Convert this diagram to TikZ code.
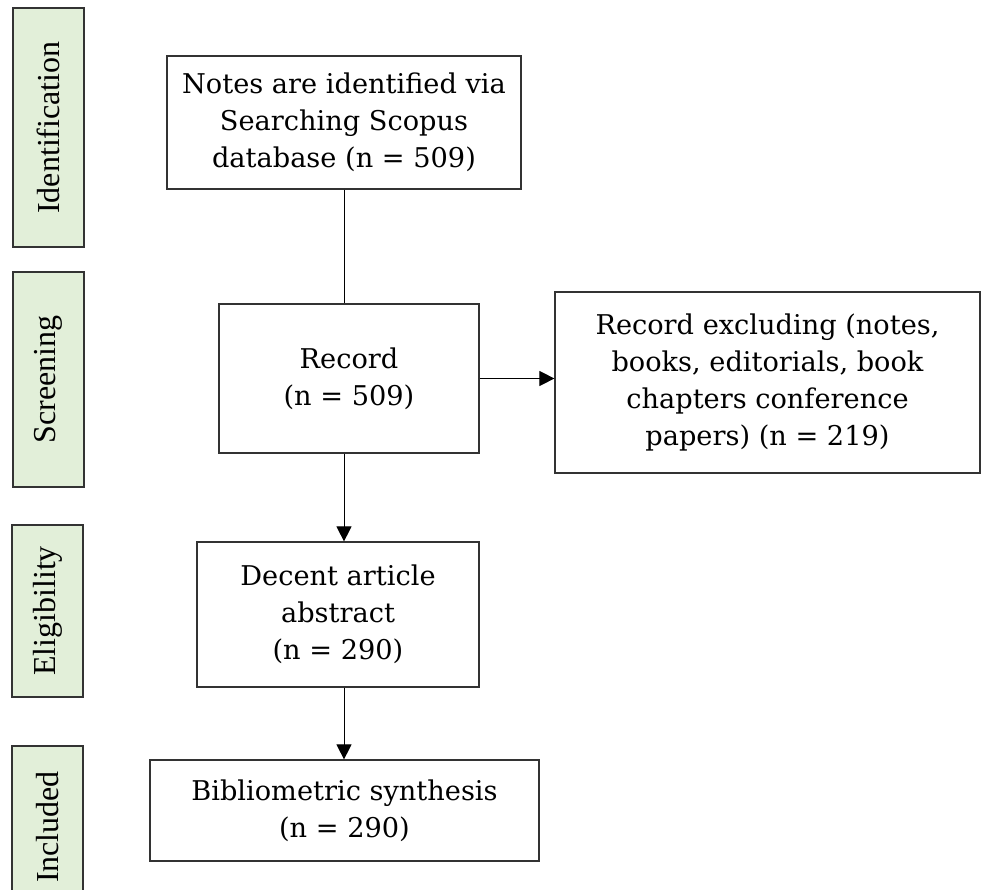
\documentclass[tikz,border=0pt]{standalone}
\usepackage{fontspec}
\setmainfont{DejaVu Serif}
\newfontfamily\stagefont{Liberation Serif}
\usepackage{tikz}
\usetikzlibrary{arrows.meta}

\definecolor{stagegreen}{HTML}{E2EFD9}
\definecolor{boxline}{HTML}{333333}

\begin{document}
\begin{tikzpicture}[x=1pt,y=-1pt]
    % `stage' is used for the rotated labels on the left.
    % `flowbox' is used for the boxes of the flow.
    % `flow' is used for the connectors between boxes.
    \tikzstyle{stage} = [draw=boxline,line width=1.6pt,fill=stagegreen,rotate=90,
                         inner sep=0pt,minimum height=71pt,
                         font=\stagefont\fontsize{32}{38}\selectfont]
    \tikzstyle{flowbox} = [draw=boxline,line width=1.2pt,fill=white,align=center,
                           inner sep=0pt,font=\fontsize{27.2}{37}\selectfont]
    \tikzstyle{flow} = [line width=1pt,-{Triangle[length=15pt,width=15pt]}]
    %
    \useasboundingbox (0,0) rectangle (982,890);
    % stages
    \node[stage,minimum width=239pt] (ident) at (48.5,127.5) {Identification};
    \node[stage,minimum width=215pt] (screen) at (48.5,379.5) {Screening};
    \node[stage,minimum width=172pt] (elig) at (47.5,611) {Eligibility};
    \node[stage,minimum width=162pt] (incl) at (47.5,827) {Included};
    % flow boxes
    \node[flowbox,minimum width=354pt,minimum height=133pt] (notes) at (344,122.5)
        {Notes are identified via\\Searching Scopus\\database (n = 509)};
    \node[flowbox,minimum width=260pt,minimum height=149pt] (record) at (349,378.5)
        {Record\\(n = 509)};
    \node[flowbox,minimum width=425pt,minimum height=181pt] (exclude) at (767.5,382.5)
        {Record excluding (notes,\\books, editorials, book\\chapters conference\\papers) (n = 219)};
    \node[flowbox,minimum width=282pt,minimum height=145pt] (decent) at (338,614.5)
        {Decent article\\abstract\\(n = 290)};
    \node[flowbox,minimum width=389pt,minimum height=101pt] (biblio) at (344.5,810.5)
        {Bibliometric synthesis\\(n = 290)};
    % connectors
    \draw[line width=1pt] (notes.south) -- (notes.south |- record.north);
    \draw[flow] (notes.south |- record.south) -- (notes.south |- decent.north);
    \draw[flow] (notes.south |- decent.south) -- (notes.south |- biblio.north);
    \draw[flow] (record.east) -- (exclude.west |- record.east);
\end{tikzpicture}
\end{document}
